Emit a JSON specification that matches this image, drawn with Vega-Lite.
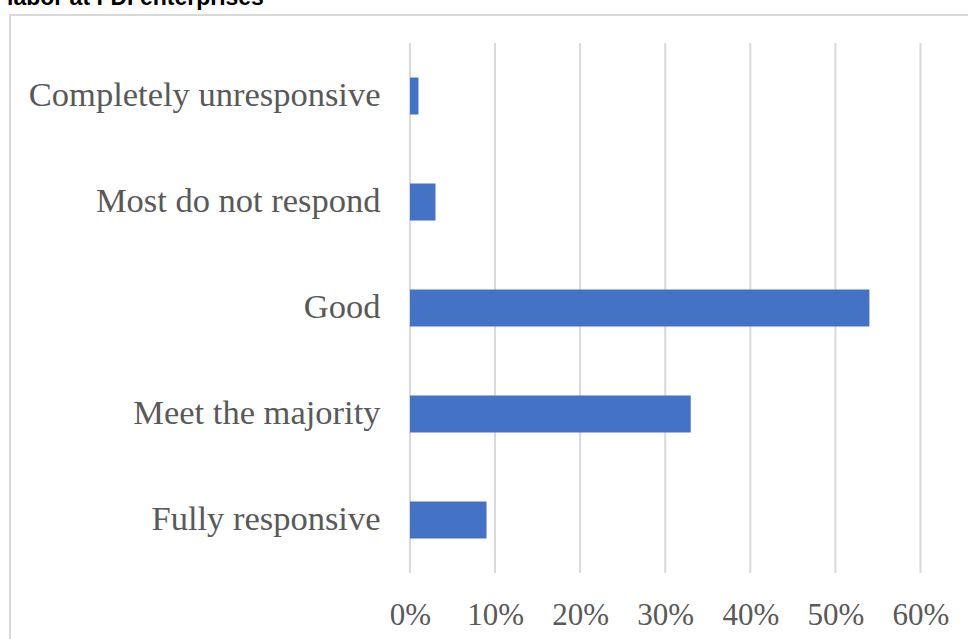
{
  "$schema": "https://vega.github.io/schema/vega-lite/v6.json",
  "autosize": {"type": "none"},
  "padding": {"left": 10, "top": 15, "right": 0, "bottom": 0},
  "width": 990,
  "height": 666,
  "background": "white",
  "title": {
    "text": "labor at FDI enterprises",
    "anchor": "start",
    "frame": "group",
    "orient": "top",
    "baseline": "alphabetic",
    "offset": 4,
    "dx": -3,
    "dy": 17,
    "font": "Liberation Sans",
    "fontSize": 23,
    "fontWeight": "bold",
    "color": "#000000"
  },
  "datasets": {
    "responses": [
      {"level": "Completely unresponsive", "share": 0.01},
      {"level": "Most do not respond", "share": 0.03},
      {"level": "Good", "share": 0.54},
      {"level": "Meet the majority", "share": 0.33},
      {"level": "Fully responsive", "share": 0.09}
    ],
    "ticks": [
      {"tick": 0}, {"tick": 0.1}, {"tick": 0.2}, {"tick": 0.3}, {"tick": 0.4}, {"tick": 0.5}, {"tick": 0.6}
    ]
  },
  "layer": [
    {
      "data": {"name": "ticks"},
      "mark": {"type": "rule", "color": "#D9D9D9", "strokeWidth": 2},
      "encoding": {
        "x": {"field": "tick", "type": "quantitative"},
        "y": {"datum": "Completely unresponsive", "type": "nominal", "bandPosition": 0},
        "y2": {"datum": "Fully responsive", "bandPosition": 1}
      }
    },
    {
      "data": {"name": "responses"},
      "mark": {"type": "bar", "color": "#4472C4", "size": 37},
      "encoding": {
        "y": {"field": "level", "type": "nominal"},
        "x": {"field": "share", "type": "quantitative"},
        "x2": {"datum": 0}
      }
    }
  ],
  "encoding": {
    "y": {
      "field": "level",
      "type": "nominal",
      "sort": ["Completely unresponsive", "Most do not respond", "Good", "Meet the majority", "Fully responsive"],
      "scale": {
        "domain": ["Completely unresponsive", "Most do not respond", "Good", "Meet the majority", "Fully responsive"],
        "type": "band",
        "paddingInner": 0,
        "paddingOuter": 0.64151,
        "align": 0.206
      },
      "axis": {
        "title": null,
        "orient": "left",
        "offset": -400,
        "domain": false,
        "ticks": false,
        "grid": false,
        "labelPadding": 30,
        "labelFont": "Liberation Serif",
        "labelFontSize": 34.5,
        "labelColor": "#595959",
        "labelLimit": 600
      }
    },
    "x": {
      "type": "quantitative",
      "scale": {"domain": [-0.4701, 0.6935], "nice": false, "zero": false},
      "axis": {
        "title": null,
        "orient": "bottom",
        "offset": -108,
        "values": [0, 0.1, 0.2, 0.3, 0.4, 0.5, 0.6],
        "format": ".0%",
        "domain": false,
        "ticks": false,
        "grid": false,
        "labelPadding": 51,
        "labelBaseline": "alphabetic",
        "labelFont": "Liberation Serif",
        "labelFontSize": 31,
        "labelColor": "#595959"
      }
    }
  },
  "config": {
    "view": {"stroke": "#D9D9D9", "strokeWidth": 2}
  }
}
